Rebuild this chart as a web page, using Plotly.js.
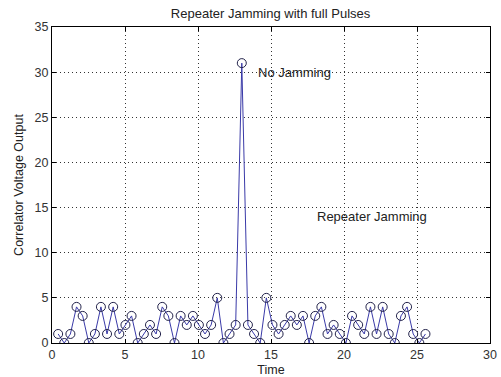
<!DOCTYPE html>
<html>
<head>
<meta charset="utf-8">
<script src="https://cdn.plot.ly/plotly-3.0.1.min.js"></script>
<style>html,body{margin:0;padding:0;background:#fff;}#chart{width:501px;height:377px;}</style>
</head>
<body>
<div id="chart"></div>
<script>
const time = [0.42,0.84,1.26,1.68,2.10,2.52,2.94,3.35,3.77,4.19,4.61,5.03,5.45,5.87,6.29,6.71,7.13,7.55,7.97,8.39,8.81,9.23,9.65,10.06,10.48,10.90,11.32,11.74,12.16,12.58,13.00,13.42,13.84,14.26,14.68,15.10,15.52,15.94,16.35,16.77,17.19,17.61,18.03,18.45,18.87,19.29,19.71,20.13,20.55,20.97,21.39,21.81,22.23,22.65,23.06,23.48,23.90,24.32,24.74,25.16,25.58];
const output = [1,0,1,4,3,0,1,4,1,4,1,2,3,0,1,2,1,4,3,0,3,2,3,2,1,2,5,0,1,2,31,2,1,0,5,2,1,2,3,2,3,0,3,4,1,2,1,0,3,2,1,4,1,4,1,0,3,4,1,0,1];
const xTicks = [0,5,10,15,20,25,30];
const yTicks = [0,5,10,15,20,25,30,35];
const labels = [
  {text: 'No Jamming', x: 14, y: 30},
  {text: 'Repeater Jamming', x: 18, y: 14}
];

const fam = 'Liberation Sans, Arial, sans-serif';
const font = {family: fam, size: 12.5, color: '#222'};
const tickFont = {family: fam, size: 12.5, color: '#333'};

const trace = {
  x: time, y: output, type: 'scatter', mode: 'lines+markers',
  line: {color: '#3a3aa8', width: 1},
  marker: {symbol: 'circle-open', size: 9, color: '#22224a', line: {width: 1, color: '#22224a'}},
  hoverinfo: 'x+y'
};

const axisCommon = {
  showline: true, linecolor: '#000', linewidth: 1, mirror: 'ticks',
  ticks: 'inside', ticklen: 4, tickcolor: '#000',
  showgrid: true, gridcolor: '#333', griddash: '1px,3px', gridwidth: 1,
  zeroline: false, tickfont: tickFont
};

const layout = {
  width: 501, height: 377,
  margin: {l: 52, r: 11, t: 27, b: 34},
  paper_bgcolor: '#fff', plot_bgcolor: '#fff',
  showlegend: false,
  font: font,
  title: {text: 'Repeater Jamming with full Pulses', font: {family: fam, size: 13, color: '#222'}, x: 0.54, xanchor: 'center', y: 0.965, yanchor: 'middle'},
  xaxis: Object.assign({}, axisCommon, {
    range: [0, 30], tickvals: xTicks, ticktext: xTicks.map(String),
    title: {text: 'Time', font: font, standoff: 4}
  }),
  yaxis: Object.assign({}, axisCommon, {
    range: [0, 35], tickvals: yTicks, ticktext: yTicks.map(String),
    title: {text: 'Correlator Voltage Output', font: font, standoff: 8}
  }),
  annotations: labels.map(l => ({
    text: l.text, x: l.x, y: l.y, xref: 'x', yref: 'y',
    xanchor: 'left', yanchor: 'middle', showarrow: false, font: {family: fam, size: 13, color: '#222'}
  }))
};

Plotly.newPlot('chart', [trace], layout, {staticPlot: true, displayModeBar: false});
</script>
</body>
</html>
